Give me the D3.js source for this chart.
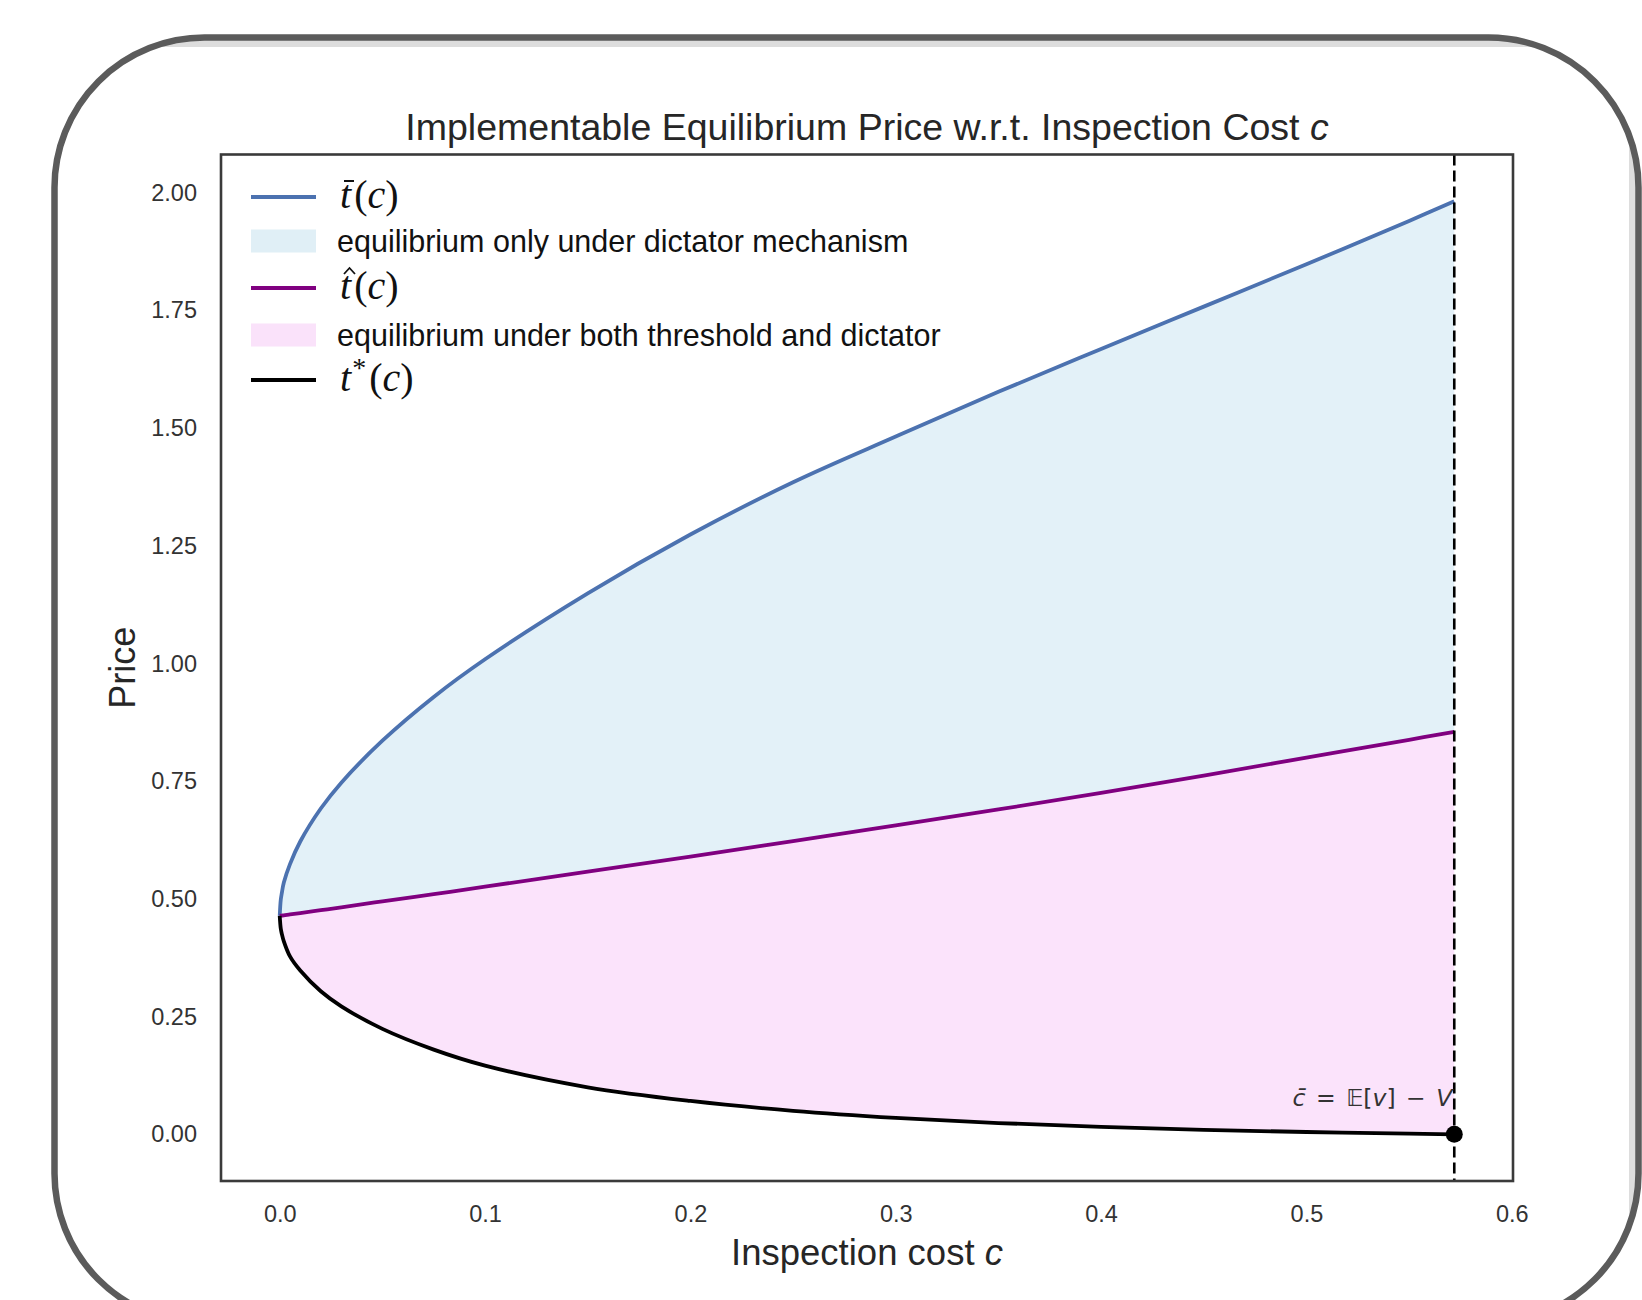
<!DOCTYPE html>
<html>
<head>
<meta charset="utf-8">
<script src="https://cdn.jsdelivr.net/npm/d3@7"></script>
<style>
  body { margin: 0; background: #fff; }
  svg { display: block; }
</style>
</head>
<body>
<svg width="1642" height="1300"></svg>
<script>
// Values
const cValues = [0, 0.0005, 0.001, 0.002, 0.005, 0.01, 0.02, 0.03, 0.05, 0.075, 0.1, 0.15, 0.2, 0.25, 0.3, 0.35, 0.4, 0.45, 0.5, 0.55, 0.572];
const tBar  = [0.464, 0.498, 0.512, 0.535, 0.574, 0.622, 0.692, 0.747, 0.836, 0.929, 1.009, 1.149, 1.274, 1.385, 1.482, 1.577, 1.668, 1.758, 1.848, 1.94, 1.982];
const tHat  = [0.464, 0.4643, 0.4647, 0.465, 0.467, 0.470, 0.476, 0.482, 0.495, 0.510, 0.526, 0.558, 0.590, 0.623, 0.656, 0.690, 0.725, 0.762, 0.800, 0.838, 0.855];
const tStar = [0.464, 0.437, 0.426, 0.410, 0.378, 0.348, 0.304, 0.272, 0.224, 0.180, 0.146, 0.100, 0.071, 0.050, 0.035, 0.024, 0.016, 0.0095, 0.005, 0.0015, 0.0];
const cBar = 0.572;

const xTicks = [0, 0.1, 0.2, 0.3, 0.4, 0.5, 0.6];
const yTicks = [0, 0.25, 0.5, 0.75, 1.0, 1.25, 1.5, 1.75, 2.0];

const legendKinds  = ["line", "patch", "line", "patch", "line"];
const legendLabels = ["bar", "equilibrium only under dictator mechanism", "hat", "equilibrium under both threshold and dictator", "star"];

const svg = d3.select("svg");
const sans = "'Liberation Sans', Arial, Helvetica, sans-serif";
const serif = "'Liberation Serif', 'Times New Roman', serif";
const textColor = "#262626";

// ---- window frame around the figure
const frame = { x: 54.5, y: 37.5, w: 1584, h: 1286, r: 150 };
const defs = svg.append("defs");
defs.append("clipPath").attr("id", "frameClip")
  .append("rect")
  .attr("x", frame.x).attr("y", frame.y)
  .attr("width", frame.w).attr("height", frame.h)
  .attr("rx", frame.r).attr("ry", frame.r);

const inner = svg.append("g").attr("clip-path", "url(#frameClip)");
inner.append("rect").attr("x", 0).attr("y", 0).attr("width", 1642).attr("height", 1400).attr("fill", "#dddddd");
inner.append("rect").attr("x", 0).attr("y", 47).attr("width", 1629).attr("height", 1400).attr("fill", "#ffffff");

svg.append("rect")
  .attr("x", frame.x).attr("y", frame.y)
  .attr("width", frame.w).attr("height", frame.h)
  .attr("rx", frame.r).attr("ry", frame.r)
  .attr("fill", "none")
  .attr("stroke", "#5b5b5b")
  .attr("stroke-width", 6.5);

// ---- plot area
const plot = { left: 221, top: 154.5, right: 1513, bottom: 1181 };

const xScale = d3.scaleLinear()
  .domain([-0.0286, 0.6006])
  .range([plot.left, plot.right]);

const yScale = d3.scaleLinear()
  .domain([-0.0991, 2.0811])
  .range([plot.bottom, plot.top]);

defs.append("clipPath").attr("id", "plotClip")
  .append("rect")
  .attr("x", plot.left).attr("y", plot.top)
  .attr("width", plot.right - plot.left).attr("height", plot.bottom - plot.top);

const rows = cValues.map((c, i) => ({ c: c, bar: tBar[i], hat: tHat[i], star: tStar[i] }));
const smooth = d3.curveCatmullRom.alpha(0.5);

const g = svg.append("g").attr("clip-path", "url(#plotClip)");

// shaded regions
const blueArea = d3.area()
  .x(d => xScale(d.c))
  .y0(d => yScale(d.hat))
  .y1(d => yScale(d.bar))
  .curve(smooth);

const pinkArea = d3.area()
  .x(d => xScale(d.c))
  .y0(d => yScale(d.star))
  .y1(d => yScale(d.hat))
  .curve(smooth);

g.append("path").datum(rows).attr("d", blueArea).attr("fill", "#e3f1f8");
g.append("path").datum(rows).attr("d", pinkArea).attr("fill", "#fbe3fb");

// curves
const lineOf = key => d3.line()
  .x(d => xScale(d.c))
  .y(d => yScale(d[key]))
  .curve(smooth);

g.append("path").datum(rows).attr("d", lineOf("bar"))
  .attr("fill", "none").attr("stroke", "#4c72b0").attr("stroke-width", 3.8);
g.append("path").datum(rows).attr("d", lineOf("hat"))
  .attr("fill", "none").attr("stroke", "#800080").attr("stroke-width", 3.8);
g.append("path").datum(rows).attr("d", lineOf("star"))
  .attr("fill", "none").attr("stroke", "#000000").attr("stroke-width", 3.8);

// vertical dashed line at c-bar
g.append("line")
  .attr("x1", xScale(cBar)).attr("x2", xScale(cBar))
  .attr("y1", plot.top).attr("y2", plot.bottom)
  .attr("stroke", "#000").attr("stroke-width", 2.6)
  .attr("stroke-dasharray", "11,5");

// dot at (c-bar, 0)
g.append("circle")
  .attr("cx", xScale(cBar)).attr("cy", yScale(0))
  .attr("r", 8.5).attr("fill", "#000");

// annotation
const ann = svg.append("text")
  .attr("x", xScale(cBar) - 2)
  .attr("y", yScale(0) - 28)
  .attr("text-anchor", "end")
  .attr("font-family", "'DejaVu Sans', sans-serif")
  .attr("font-size", 23.5)
  .attr("fill", "#333");
ann.append("tspan").attr("font-style", "italic").text("c\u0304");
ann.append("tspan").attr("dx", 3).text(" = ");
ann.append("tspan").attr("dx", 3).text("\uD835\uDD3C[");
ann.append("tspan").attr("font-style", "italic").text("v");
ann.append("tspan").text("]");
ann.append("tspan").attr("dx", 3).text(" \u2212 ");
ann.append("tspan").attr("dx", 3).attr("font-style", "italic").text("V");

// frame of the axes
svg.append("rect")
  .attr("x", plot.left).attr("y", plot.top)
  .attr("width", plot.right - plot.left).attr("height", plot.bottom - plot.top)
  .attr("fill", "none").attr("stroke", "#3a3a3a").attr("stroke-width", 2.6);

// axes
const xAxis = d3.axisBottom(xScale)
  .tickValues(xTicks)
  .tickFormat(d3.format(".1f"))
  .tickSize(0)
  .tickPadding(24);

svg.append("g")
  .attr("transform", `translate(0, ${plot.bottom})`)
  .call(xAxis)
  .call(a => a.select(".domain").remove())
  .selectAll("text")
  .attr("font-family", sans).attr("font-size", 23.5).attr("fill", "#333");

const yAxis = d3.axisLeft(yScale)
  .tickValues(yTicks)
  .tickFormat(d3.format(".2f"))
  .tickSize(0)
  .tickPadding(24);

svg.append("g")
  .attr("transform", `translate(${plot.left}, 0)`)
  .call(yAxis)
  .call(a => a.select(".domain").remove())
  .selectAll("text")
  .attr("font-family", sans).attr("font-size", 23.5).attr("fill", "#333");

// title and axis labels
const plotMid = (plot.left + plot.right) / 2;
const title = svg.append("text")
  .attr("x", plotMid).attr("y", 140)
  .attr("text-anchor", "middle")
  .attr("font-family", sans).attr("font-size", 37.5).attr("fill", textColor);
title.append("tspan").text("Implementable Equilibrium Price w.r.t. Inspection Cost ");
title.append("tspan").attr("font-style", "italic").text("c");

const xLab = svg.append("text")
  .attr("x", plotMid).attr("y", 1265)
  .attr("text-anchor", "middle")
  .attr("font-family", sans).attr("font-size", 36.5).attr("fill", textColor);
xLab.append("tspan").text("Inspection cost ");
xLab.append("tspan").attr("font-style", "italic").text("c");

svg.append("text")
  .attr("transform", `translate(${135}, ${(plot.top + plot.bottom) / 2}) rotate(-90)`)
  .attr("text-anchor", "middle")
  .attr("font-family", sans).attr("font-size", 36).attr("fill", textColor)
  .text("Price");

// ---- legend
const legendRowY = [197, 241, 288, 335, 380];
const legendColors = ["#4c72b0", "#e0eff6", "#800080", "#fae2fa", "#000000"];
const legend = svg.append("g");

// t(c) as text; the bar and hat accents drawn as small strokes over the t
const mathLabel = (x, y, kind) => {
  const size = 40;
  const t = legend.append("text")
    .attr("x", x).attr("y", y)
    .attr("font-family", serif).attr("font-size", size).attr("fill", "#111");
  t.append("tspan").attr("font-style", "italic").text("t");
  if (kind === "star") {
    t.append("tspan").attr("dx", 1).attr("dy", -size * 0.36).attr("font-size", size * 0.7).text("*");
    t.append("tspan").attr("dy", size * 0.36).attr("dx", 3).text("(");
  } else {
    t.append("tspan").attr("dx", 3).text("(");
  }
  t.append("tspan").attr("font-style", "italic").text("c");
  t.append("tspan").text(")");

  if (kind === "bar") {
    legend.append("line")
      .attr("x1", x + 4).attr("x2", x + 14)
      .attr("y1", y - 27).attr("y2", y - 27)
      .attr("stroke", "#111").attr("stroke-width", 2);
  }
  if (kind === "hat") {
    legend.append("path")
      .attr("d", `M${x + 4},${y - 25} L${x + 9.5},${y - 31} L${x + 15},${y - 25}`)
      .attr("fill", "none").attr("stroke", "#111").attr("stroke-width", 1.8);
  }
};

legendKinds.forEach((kind, i) => {
  const y = legendRowY[i];
  if (kind === "line") {
    legend.append("line")
      .attr("x1", 251).attr("x2", 316)
      .attr("y1", y).attr("y2", y)
      .attr("stroke", legendColors[i]).attr("stroke-width", 3.8);
    mathLabel(340, y + 11, legendLabels[i]);
  } else {
    legend.append("rect")
      .attr("x", 251).attr("y", y - 11.5)
      .attr("width", 65).attr("height", 23)
      .attr("fill", legendColors[i]);
    legend.append("text")
      .attr("x", 337).attr("y", y + 10.5)
      .attr("font-family", sans).attr("font-size", 30.5).attr("fill", "#111")
      .text(legendLabels[i]);
  }
});
</script>
</body>
</html>
